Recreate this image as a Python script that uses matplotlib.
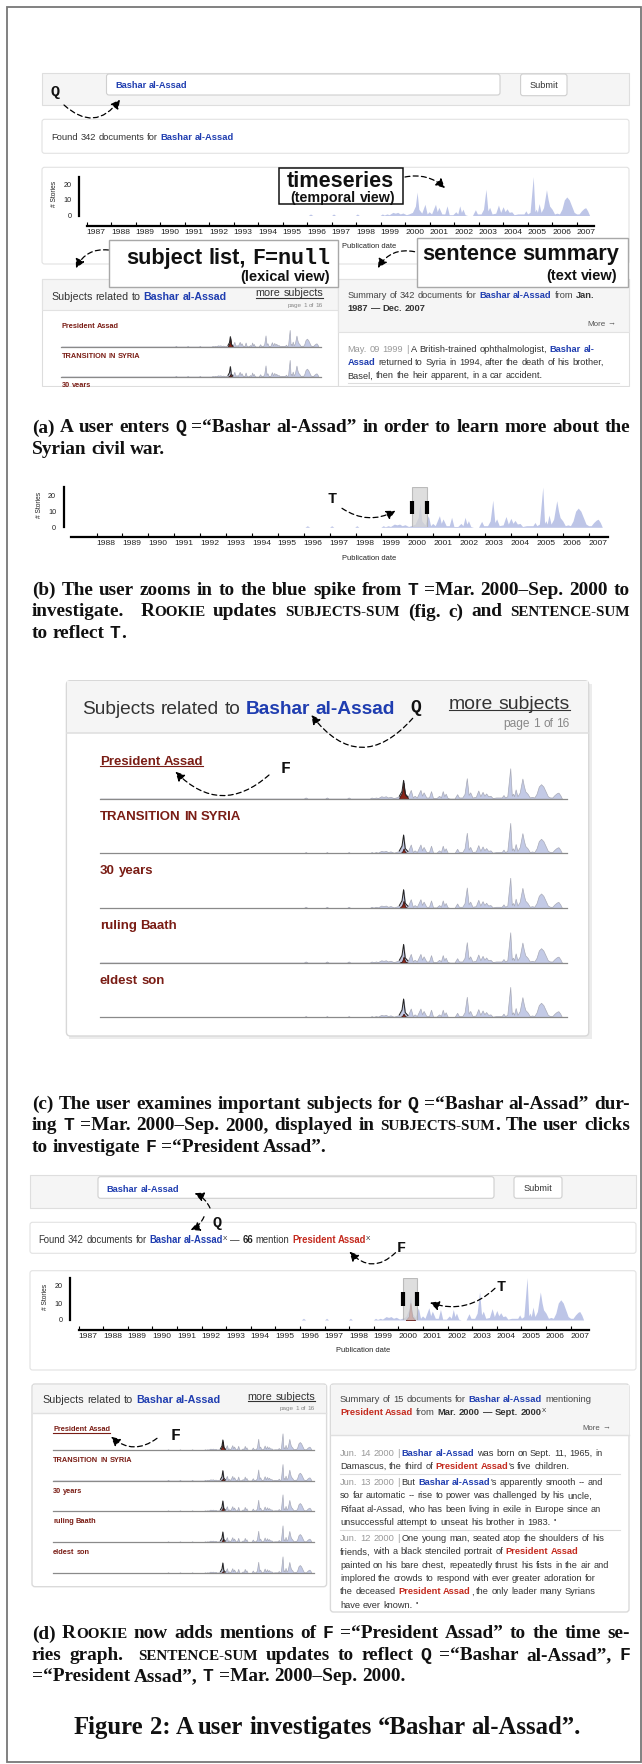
import re
import matplotlib
matplotlib.use("Agg")
import matplotlib.pyplot as plt
from matplotlib.patches import Rectangle, FancyBboxPatch

# ---------------- data ----------------
ts_dates = [1987.0, 1996.05, 1996.14, 1996.23, 1997.0, 1997.08, 1997.16, 1997.97, 1998.05, 1998.13,
            1998.98, 1999.07, 1999.15, 1999.26, 1999.35, 1999.5, 1999.6, 1999.7, 1999.8, 1999.91,
            2000.05, 2000.15, 2000.3, 2000.42, 2000.49, 2000.56, 2000.68, 2000.81, 2000.9, 2000.98,
            2001.08, 2001.24, 2001.31, 2001.38, 2001.5, 2001.62, 2001.71, 2001.8, 2001.95, 2002.07,
            2002.15, 2002.23, 2002.3, 2002.36, 2002.45, 2002.55, 2002.75, 2002.87, 2002.95, 2003.1,
            2003.2, 2003.3, 2003.38, 2003.45, 2003.55, 2003.7, 2003.81, 2003.9, 2004.0, 2004.08,
            2004.16, 2004.25, 2004.35, 2004.45, 2004.6, 2004.75, 2004.85, 2004.93, 2005.0, 2005.1,
            2005.23, 2005.3, 2005.35, 2005.4, 2005.47, 2005.55, 2005.65, 2005.77, 2005.84, 2005.9,
            2006.0, 2006.1, 2006.2, 2006.3, 2006.4, 2006.5, 2006.6, 2006.7, 2006.8, 2006.9,
            2007.0, 2007.1, 2007.2, 2007.3, 2007.37, 2007.45, 2007.53]
ts_counts = [0, 0, 1, 0, 0, 1, 0, 0, 1, 0,
             0, 1, 0.3, 1, 0.5, 2, 1.5, 2, 1, 1.6,
             0.5, 1, 2, 6, 15, 4, 1.5, 7.2, 1, 2.4,
             1, 7.2, 2.5, 5.2, 1, 1, 6.2, 0.5, 0.5, 2.4,
             1, 6.2, 2, 4.1, 0.5, 0, 0, 3.7, 1, 1,
             4, 16.8, 3, 5.2, 1, 1.5, 6.7, 2, 5.6, 2.5,
             4.3, 2, 2.4, 0.5, 1, 1, 1, 3, 1, 2,
             24.9, 2.5, 4.1, 2, 7.6, 2, 5, 16.5, 10, 6,
             4, 1, 1.5, 1, 4, 10, 11.9, 10, 6, 2,
             1, 1, 3, 4.5, 5, 3, 0]

# mentions of F = "President Assad" inside the selected window
focus_dates = [2000.30, 2000.42, 2000.49, 2000.56, 2000.68]
focus_counts = [0, 2, 10, 2, 0]

# subject list (lexical view) and their mentions inside the window
subjects = ["President Assad", "TRANSITION IN SYRIA", "30 years", "ruling Baath", "eldest son"]
subject_window_counts = [[1, 5, 13, 3, 1],
                         [0, 1, 4, 1, 0],
                         [0, 2, 6, 1, 0],
                         [0, 1, 5, 1, 0],
                         [0, 1, 3, 1, 0]]

window = (2000.2, 2000.75)          # T = Mar. 2000 - Sep. 2000
year_ticks = list(range(1987, 2008))
count_ticks = [0, 10, 20]
XMAX = 2007.73
YMAX = 25

# ---------------- styling ----------------
W, H = 642, 1764
SANS = ["Liberation Sans", "DejaVu Sans"]
SERIF = ["Liberation Serif", "DejaVu Serif"]
MONO = ["Liberation Mono", "DejaVu Sans Mono"]
BLUE = "#1f3db0"
RED = "#c42a1e"
DARKRED = "#7a1d15"
AREA = "#bdc5e7"
TXT = "#333333"

fig = plt.figure(figsize=(W / 100, H / 100), dpi=100)
A = fig.add_axes([0, 0, 1, 1], zorder=0)
A.set_xlim(0, W); A.set_ylim(H, 0); A.axis("off")
O = fig.add_axes([0, 0, 1, 1], zorder=5)
O.set_xlim(0, W); O.set_ylim(H, 0); O.axis("off"); O.patch.set_alpha(0)
R = fig.canvas.get_renderer()


def P(size, color=TXT, weight="normal", family=SANS, **extra):
    d = dict(fontsize=size, color=color, fontweight=weight, family=family)
    d.update(extra)
    return d


def clean(props):
    return {k: v for k, v in props.items() if not k.startswith("_")}


_wc = {}


def ink(s, props):
    key = (s, repr(sorted(clean(props).items())))
    if key not in _wc:
        t = A.text(0, 0, s, **clean(props))
        _wc[key] = t.get_window_extent(renderer=R).width
        t.remove()
    return _wc[key]


def adv(s, props):
    """advance width of s (pen movement), measured between two sentinel bars"""
    return ink("|" + s + "|", props) - ink("||", props)


def lsb(s, props):
    """left side bearing of s, up to a constant"""
    return ink("|" + s, props) - ink(s, props)


def split_run(text):
    m = re.match(r"^( *)(.*?)( *)$", text)
    return len(m.group(1)), m.group(2), len(m.group(3))


def natural(items):
    tot = 0.0
    for text, props in items:
        lead, core, trail = split_run(text)
        tot += (lead + trail) * adv(" ", props)
        if core:
            tot += adv(core, props)
    return tot


def scaled(items, k):
    out = []
    for text, props in items:
        d = dict(props); d["fontsize"] = props["fontsize"] * k
        if "_dy" in d:
            d["_dy"] = props["_dy"] * k
        out.append((text, d))
    return out


def fitk(items, target):
    return target / natural(items)


def put(ax, x, yb, s, pr, zorder):
    ax.text(x, yb + pr.get("_dy", 0), s, va="baseline", ha="left", zorder=zorder, **clean(pr))


def runs(x, yc, items, ax=None, justify=None, ha="left", zorder=3):
    """Draw a line of mixed-style text word by word; yc = visual centre of the line."""
    ax = ax or A
    base_size = max(pr["fontsize"] for _, pr in items)
    yb = yc + 0.36 * base_size * 100 / 72
    if justify is not None:
        toks = []
        for text, props in items:
            for p in re.split(r"( )", text):
                if p:
                    toks.append((p, props))
        ws = [adv(p, pr) for p, pr in toks]
        nsp = sum(1 for p, _ in toks if p == " ")
        extra = (justify - sum(ws)) / nsp if nsp else 0.0
        cx = x
        for (p, pr), w in zip(toks, ws):
            if p == " ":
                cx += w + extra
                continue
            put(ax, cx, yb, p, pr, zorder)
            cx += w
        return x, cx
    total = natural(items)
    if ha == "right":
        x = x - total
    elif ha == "center":
        x = x - total / 2
    cx = x
    for text, pr in items:
        lead, core, trail = split_run(text)
        cx += lead * adv(" ", pr)
        if core:
            for m in re.finditer(r"\S+", core):
                wd = m.group(0)
                off = ink(core[:m.end()], pr) - ink(wd, pr) + lsb(core, pr) - lsb(wd, pr)
                put(ax, cx + off, yb, wd, pr, zorder)
            cw = adv(core, pr)
            if pr.get("_ul"):
                ax.plot([cx, cx + cw], [yb + 1.6, yb + 1.6], color=pr["color"], lw=0.8, zorder=zorder)
            cx += cw
        cx += trail * adv(" ", pr)
    return x, cx


def fitted(x, yc, items, target, **kw):
    return runs(x, yc, scaled(items, fitk(items, target)), **kw)


def box(x0, y0, x1, y1, fc="white", ec="#e2e2e2", lw=0.8, r=2.5, ax=None, z=1):
    ax = ax or A
    ax.add_patch(FancyBboxPatch((x0, y0), x1 - x0, y1 - y0,
                                boxstyle=f"round,pad=0,rounding_size={r}",
                                fc=fc, ec=ec, lw=lw, zorder=z))


def rect(x0, y0, x1, y1, fc="white", ec="none", lw=0.8, ax=None, z=1):
    ax = ax or A
    ax.add_patch(Rectangle((x0, y0), x1 - x0, y1 - y0, fc=fc, ec=ec, lw=lw, zorder=z))


def arrow(p0, p1, rad):
    O.annotate("", xy=p1, xytext=p0,
               arrowprops=dict(arrowstyle="-|>,head_length=0.55,head_width=0.28",
                               connectionstyle=f"arc3,rad={rad}",
                               linestyle=(0, (4, 2.6)), lw=0.9, color="k",
                               shrinkA=0, shrinkB=0))


def letter(x, yc, s, size=11):
    O.text(x, yc, s, ha="center", va="center", fontsize=size, fontweight="bold",
           family=MONO, color="#111", zorder=6)


def px_axes(x0, y0, x1, y1, z=2):
    a = fig.add_axes([x0 / W, 1 - y1 / H, (x1 - x0) / W, (y1 - y0) / H], zorder=z)
    a.patch.set_alpha(0)
    return a


def timeseries(x0, ppy, ybase, ytop, axis_y, spine_x, first_label, ylab_x, xlab_x, xlab_y):
    x1 = x0 + ppy * (XMAX - 1987)
    a = px_axes(x0, ytop, x1, ybase)
    a.set_xlim(1987, XMAX); a.set_ylim(0, YMAX)
    a.fill_between(ts_dates, ts_counts, color=AREA, lw=0)
    for s in ("top", "right"):
        a.spines[s].set_visible(False)
    a.spines["bottom"].set_position(("outward", (axis_y - ybase) * 0.72))
    a.spines["bottom"].set_linewidth(1.6)
    a.spines["left"].set_position(("outward", (x0 - spine_x) * 0.72))
    a.spines["left"].set_linewidth(1.6)
    yrs = [y for y in year_ticks if y >= first_label]
    a.set_xticks(yrs)
    a.set_xticklabels([str(y) for y in yrs], ha="left", fontsize=6.1, family=SANS, color="#222")
    a.tick_params(axis="x", direction="in", length=3, width=0.8, pad=2.2)
    a.set_yticks(count_ticks)
    a.set_yticklabels([str(c) for c in count_ticks], fontsize=5.2, family=SANS, color="#222")
    a.tick_params(axis="y", length=0, pad=5.5)
    a.set_ylabel("# Stories", fontsize=4.8, family=SANS, color="#222", va="center")
    a.yaxis.set_label_coords((ylab_x - x0) / (x1 - x0), 0.55)
    a.set_xlabel("Publication date", fontsize=5.4, family=SANS, color="#222", va="center")
    a.xaxis.set_label_coords((xlab_x - x0) / (x1 - x0), (ybase - xlab_y) / (ybase - ytop))
    return a


def selection(a):
    a.axvspan(window[0], window[1], ymin=0, ymax=1, fc="#d4d4d4", ec="#aaaaaa", lw=0.8, alpha=0.75, zorder=3)
    for xv in window:
        a.axvline(xv, ymin=0.33, ymax=0.66, color="k", lw=3.0, solid_capstyle="butt", zorder=4)


def sparkline(x0, x1, ybase, height, sub_counts):
    a = px_axes(x0, ybase - height, x1, ybase)
    a.set_xlim(1987, XMAX); a.set_ylim(0, YMAX)
    a.fill_between(ts_dates, ts_counts, fc="#c3cae6", ec="#a9abb8", lw=0.5)
    wd = [d for d in ts_dates if window[0] <= d <= window[1]]
    wc = [c for d, c in zip(ts_dates, ts_counts) if window[0] <= d <= window[1]]
    a.plot(wd, wc, color="#222", lw=0.7)
    a.fill_between(focus_dates, sub_counts, fc="#8a2418", ec="#2a0a06", lw=0.5)
    for s in ("top", "right", "left"):
        a.spines[s].set_visible(False)
    a.spines["bottom"].set_color("#8a8a8a"); a.spines["bottom"].set_linewidth(0.9)
    a.set_xticks([]); a.set_yticks([])
    return a


# ---------------- outer frame ----------------
A.add_patch(Rectangle((7, 7), 633.5, 1755, fc="none", ec="#777", lw=1.3, zorder=0))

# =============== panel (a) ===============
rect(42, 72.7, 629, 105, fc="#f5f5f5", ec="#dedede")
box(106.5, 74, 500, 95, ec="#cfcfcf")
fitted(115, 85, [("Bashar al-Assad", P(6.4, BLUE, "bold"))], 72)
box(520.6, 74, 567, 95.7, ec="#cfcfcf")
runs(544, 85, [("Submit", P(6.6))], ha="center")
letter(55, 92, "Q", 11)
arrow((64, 105), (120, 99.5), 0.55)

box(42, 119.3, 629, 153.3)
fitted(51, 136.7, [("Found 342 documents for ", P(6.6)), ("Bashar al-Assad", P(6.6, BLUE, "bold"))], 182.6)

box(42, 167.3, 629, 264)
timeseries(86.6, 24.5, 215.5, 176.5, 225.7, 79, 1987, 55, 369, 247)

# annotation: timeseries
rect(278.8, 168.3, 403, 204.3, fc="white", ec="#111", lw=1.1, ax=O, z=4)
fitted(340, 179.5, [("timeseries", P(15.5, "#111", "bold"))], 107, ax=O, ha="center", zorder=6)
fitted(343, 196.5, [("(temporal view)", P(10.2, "#111", "bold"))], 104.5, ax=O, ha="center", zorder=6)
arrow((405, 177), (445, 188), -0.25)

# subjects panel (a)
SUBHDR = [("Subjects related to ", P(7.6)), ("Bashar al-Assad", P(7.6, BLUE, "bold"))]
rect(42, 279, 338, 386, fc="white", ec="#dddddd")
rect(42, 279, 338, 310, fc="#f5f5f5", ec="#e2e2e2")
fitted(51, 295.7, SUBHDR, 175)
fitted(323, 292.3, [("more subjects", P(7.6, "#333", _ul=True))], 67, ha="right")
runs(323, 304.3, [("page 1 of 16", P(4.6, "#888"))], ha="right")
k_row_small = fitk([("President Assad", P(5.2, DARKRED, "bold"))], 57.4)
for i, (name, yc, yb) in enumerate(zip(subjects[:3], [325, 355.7, 384.5], [346.7, 376.7, 406.7])):
    runs(61.4, yc, scaled([(name, P(5.2, DARKRED, "bold"))], k_row_small))
    if i < 2:
        sparkline(61.4, 321, yb, 16.8, subject_window_counts[i])

# sentence panel (a)
rect(338, 279, 629, 386, fc="white", ec="#dddddd")
rect(338, 279, 629, 331.7, fc="#f5f5f5", ec="#e2e2e2")
hdr_a = [("Summary of 342 documents for ", P(6.9, "#444")), ("Bashar al-Assad", P(6.9, BLUE, "bold")),
         (" from ", P(6.9, "#444")), ("Jan.", P(6.9, "#333", "bold"))]
ka = fitk(hdr_a, 249)
runs(347.6, 295, scaled(hdr_a, ka))
runs(347.6, 307.7, scaled([("1987 — Dec. 2007", P(6.9, "#333", "bold"))], ka))
runs(615.5, 322.7, [("More →", P(5.8, "#555"))], ha="right")
body_a2 = [("Assad", P(6.9, BLUE, "bold")),
           (" returned to Syria in 1994, after the death of his brother,", P(6.9))]
kb = fitk(body_a2, 256)
runs(347.6, 348.3, scaled([("May. 09 1999 | ", P(6.9, "#999")), ("A British-trained ophthalmologist, ", P(6.9)),
                           ("Bashar al-", P(6.9, BLUE, "bold"))], kb))
runs(347.6, 361.7, scaled(body_a2, kb))
runs(347.6, 375, scaled([("Basel, then the heir apparent, in a car accident.", P(6.9))], kb))
A.plot([347.6, 619], [383.3, 383.3], color="#dddddd", lw=0.8, zorder=2)
# crop edge of the screenshot
rect(30, 386.5, 636, 405, fc="white", ec="none", ax=O, z=4)

# annotation: subject list
rect(109, 240, 338, 286.7, fc="white", ec="#a8a8a8", lw=1.0, ax=O, z=4)
fitted(330, 256, [("subject list, ", P(14.6, "#111", "bold")), ("F=null", P(14.6, "#111", "bold", MONO))],
       203, ax=O, ha="right", zorder=6)
fitted(330.4, 276, [("(lexical view)", P(10.4, "#111", "bold"))], 90, ax=O, ha="right", zorder=6)
arrow((108.5, 250), (76, 268.3), 0.35)

# annotation: sentence summary
rect(417, 238, 628, 286.7, fc="white", ec="#a8a8a8", lw=1.0, ax=O, z=4)
fitted(619.4, 252, [("sentence summary", P(14.6, "#111", "bold"))], 197, ax=O, ha="right", zorder=6)
fitted(617.5, 274.5, [("(text view)", P(10.4, "#111", "bold"))], 71, ax=O, ha="right", zorder=6)
arrow((414.6, 251.7), (378, 268), 0.35)

# ---------------- captions ----------------
CB = P(12.2, "#111", "bold", SERIF)
CSC = P(9.6, "#111", "bold", SERIF)
CM = P(11.5, "#111", "bold", MONO)
CAP_X, CAP_W = 32, 598

cap_a = [
    [("(a) A user enters ", CB), ("Q", CM), (" =“Bashar al-Assad” in order to learn more about the", CB)],
    [("Syrian civil war.", CB)],
]
cap_b = [
    [("(b) The user zooms in to the blue spike from ", CB), ("T", CM), (" =Mar. 2000–Sep. 2000 to", CB)],
    [("investigate.  ", CB), ("R", CB), ("OOKIE", CSC), (" updates ", CB), ("SUBJECTS-SUM", CSC),
     (" (fig. c) and ", CB), ("SENTENCE-SUM", CSC)],
    [("to reflect ", CB), ("T", CM), (".", CB)],
]
cap_c = [
    [("(c) The user examines important subjects for ", CB), ("Q", CM), (" =“Bashar al-Assad” dur-", CB)],
    [("ing ", CB), ("T", CM), (" =Mar. 2000–Sep. 2000, displayed in ", CB), ("SUBJECTS-SUM", CSC),
     (". The user clicks", CB)],
    [("to investigate ", CB), ("F", CM), (" =“President Assad”.", CB)],
]
cap_d = [
    [("(d) ", CB), ("R", CB), ("OOKIE", CSC), (" now adds mentions of ", CB), ("F", CM),
     (" =“President Assad” to the time se-", CB)],
    [("ries graph.  ", CB), ("SENTENCE-SUM", CSC), (" updates to reflect ", CB), ("Q", CM),
     (" =“Bashar al-Assad”, ", CB), ("F", CM)],
    [("=“President Assad”, ", CB), ("T", CM), (" =Mar. 2000–Sep. 2000.", CB)],
]
kcap = fitk(cap_a[0], 588)


def caption(lines, y0, step=21.5):
    for i, ln in enumerate(lines):
        just = CAP_W if i < len(lines) - 1 else None
        runs(CAP_X, y0 + i * step, scaled(ln, kcap), justify=just, ax=O, zorder=6)


caption(cap_a, 425.5)
caption(cap_b, 588)
caption(cap_c, 1102)
caption(cap_d, 1631.5)

fitted(327.5, 1725, [("Figure 2: A user investigates “Bashar al-Assad”.", P(16, "#111", "bold", SERIF))], 509,
       ha="center", ax=O)

# =============== panel (b) ===============
ab = timeseries(70.6, 25.9, 527.3, 487, 537.3, 63.7, 1988, 39.6, 368.7, 558.3)
selection(ab)
letter(332.3, 499, "T", 11)
arrow((342, 508.3), (395.5, 510.7), 0.3)

# =============== panel (c) ===============
rect(69, 684, 591.5, 1039, fc="#ececec", ec="none", z=0.5)
box(66.4, 680.7, 588.7, 1036, ec="#d8d8d8", lw=1.0, r=4)
rect(67, 681.2, 588.1, 732.7, fc="#f5f5f5", ec="none")
A.plot([67, 588.1], [732.7, 732.7], color="#e0e0e0", lw=1.2, zorder=2)
fitted(82.4, 707.3, SUBHDR, 314)
fitted(569.6, 701.7, [("more subjects", P(13.6, "#333", _ul=True))], 120, ha="right")
runs(569.6, 722.7, [("page 1 of 16", P(8.6, "#888"))], ha="right")
letter(415.8, 707.3, "Q", 13)
arrow((412.7, 718.3), (311.3, 715), -0.6)
k_row_big = fitk([("President Assad", P(9.4, DARKRED, "bold"))], 103)
c_names_y = [760, 815, 869.3, 924, 979]
c_base_y = [798.7, 853.3, 908, 962.7, 1017.3]
for i, (name, yc, yb) in enumerate(zip(subjects, c_names_y, c_base_y)):
    runs(100, yc, scaled([(name, P(9.4, DARKRED, "bold", _ul=(i == 0)))], k_row_big))
    sparkline(100, 566.5, yb, 30.5, subject_window_counts[i])
letter(285.6, 768.3, "F", 12)
arrow((269, 775), (175.4, 771.7), -0.47)

# =============== panel (d) ===============
rect(30, 1175, 636, 1208.3, fc="#f5f5f5", ec="#dedede")
box(98, 1176.7, 494, 1198.3, ec="#cfcfcf")
fitted(106.5, 1188.3, [("Bashar al-Assad", P(6.4, BLUE, "bold"))], 72)
box(514, 1176.7, 562, 1198.3, ec="#cfcfcf")
runs(538, 1187.5, [("Submit", P(6.6))], ha="center")

box(30, 1222.3, 636, 1253.3)
fitted(38.4, 1240, [("Found 342 documents for ", P(6.5)), ("Bashar al-Assad", P(6.5, BLUE, "bold")),
                    ("X", P(4.4, "#222", _dy=-3.2)), (" — ", P(6.5)), ("66", P(6.5, "#222", "bold")),
                    (" mention ", P(6.5)), ("President Assad", P(6.5, RED, "bold")),
                    ("X", P(4.4, "#222", _dy=-3.2))], 334)
letter(217.5, 1223.3, "Q", 11)
arrow((210, 1208), (194.6, 1193.3), 0.2)
arrow((204, 1216.7), (190.7, 1230), -0.2)
letter(401, 1248.3, "F", 11)
arrow((395.5, 1252.7), (349.5, 1251.7), -0.5)

box(30, 1270.7, 636, 1370)
ad = timeseries(78.6, 24.6, 1320, 1277.5, 1330, 70.2, 1987, 45.3, 363, 1350.7)
ad.fill_between(focus_dates, focus_counts, fc="#b5443c", ec="#5a1510", lw=0.5, zorder=2.5)
selection(ad)
letter(501.5, 1287.3, "T", 11)
arrow((495, 1288.3), (430, 1302.7), -0.3)

# subjects panel (d)
box(32, 1384, 326.6, 1586.7, ec="#dadada", lw=1.0, r=3)
rect(32.5, 1384.5, 326.1, 1413.3, fc="#f5f5f5", ec="none")
A.plot([32.5, 326.1], [1413.3, 1413.3], color="#e0e0e0", lw=1, zorder=2)
fitted(42.6, 1399, SUBHDR, 176)
fitted(315, 1396, [("more subjects", P(7.6, "#333", _ul=True))], 67, ha="right")
runs(315, 1407.7, [("page 1 of 16", P(4.6, "#888"))], ha="right")
d_names_y = [1428.7, 1459.3, 1490, 1520.7, 1551.3]
d_base_y = [1450, 1480.7, 1511, 1542, 1573]
for i, (name, yc, yb) in enumerate(zip(subjects, d_names_y, d_base_y)):
    runs(53, yc, scaled([(name, P(5.2, DARKRED, "bold", _ul=(i == 0)))], k_row_small))
    sparkline(53, 314, yb, 16.7, subject_window_counts[i])
letter(175.4, 1436, "F", 12)
arrow((157, 1438.3), (111, 1436.7), -0.4)

# sentence panel (d)
box(330.4, 1384, 629, 1612, ec="#dadada", lw=1.0, r=3)
rect(330.9, 1384.5, 628.5, 1435, fc="#f5f5f5", ec="none")
A.plot([330.9, 628.5], [1435, 1435], color="#e0e0e0", lw=1, zorder=2)
S = 6.6
hdr_d = [("Summary of 15 documents for ", P(S, "#444")), ("Bashar al-Assad", P(S, BLUE, "bold")),
         (" mentioning", P(S, "#444"))]
kd = fitk(hdr_d, 251)
runs(340, 1398.3, scaled(hdr_d, kd))
runs(340, 1411.7, scaled([("President Assad", P(S, RED, "bold")), (" from ", P(S, "#444")),
                          ("Mar. 2000 — Sept. 2000", P(S, "#333", "bold")), ("X", P(4.4, "#222", _dy=-3.2))], kd))
runs(609.8, 1426.7, [("More →", P(5.6, "#555"))], ha="right")
B = 6.2
body = P(B)
date = P(B, "#999")
blue = P(B, BLUE, "bold")
red = P(B, RED, "bold")
body_lines = [
    [("Jun. 14 2000 | ", date), ("Bashar al-Assad", blue), (" was born on Sept. 11, 1965, in", body)],
    [("Damascus, the third of ", body), ("President Assad", red), ("'s five children.", body)],
    [("Jun. 13 2000 | ", date), ("But ", body), ("Bashar al-Assad", blue), ("'s apparently smooth -- and", body)],
    [("so far automatic -- rise to power was challenged by his uncle,", body)],
    [("Rifaat al-Assad, who has been living in exile in Europe since an", body)],
    [("unsuccessful attempt to unseat his brother in 1983. ''", body)],
    [("Jun. 12 2000 | ", date), ("One young man, seated atop the shoulders of his", body)],
    [("friends, with a black stenciled portrait of ", body), ("President Assad", red)],
    [("painted on his bare chest, repeatedly thrust his fists in the air and", body)],
    [("implored the crowds to respond with ever greater adoration for", body)],
    [("the deceased ", body), ("President Assad", red), (", the only leader many Syrians", body)],
    [("have ever known. ''", body)],
]
kbody = fitk(body_lines[8], 272)
body_y = [1452.3, 1465.7, 1481.7, 1495, 1508.3, 1521.7, 1537.7, 1551, 1564.3, 1577.7, 1591, 1604.3]
for ln, yc in zip(body_lines, body_y):
    runs(340, yc, scaled(ln, kbody))
for ys in (1474.3, 1530):
    A.plot([340, 620], [ys, ys], color="#dddddd", lw=0.8, zorder=2)

fig.savefig("out.png", dpi=100)
